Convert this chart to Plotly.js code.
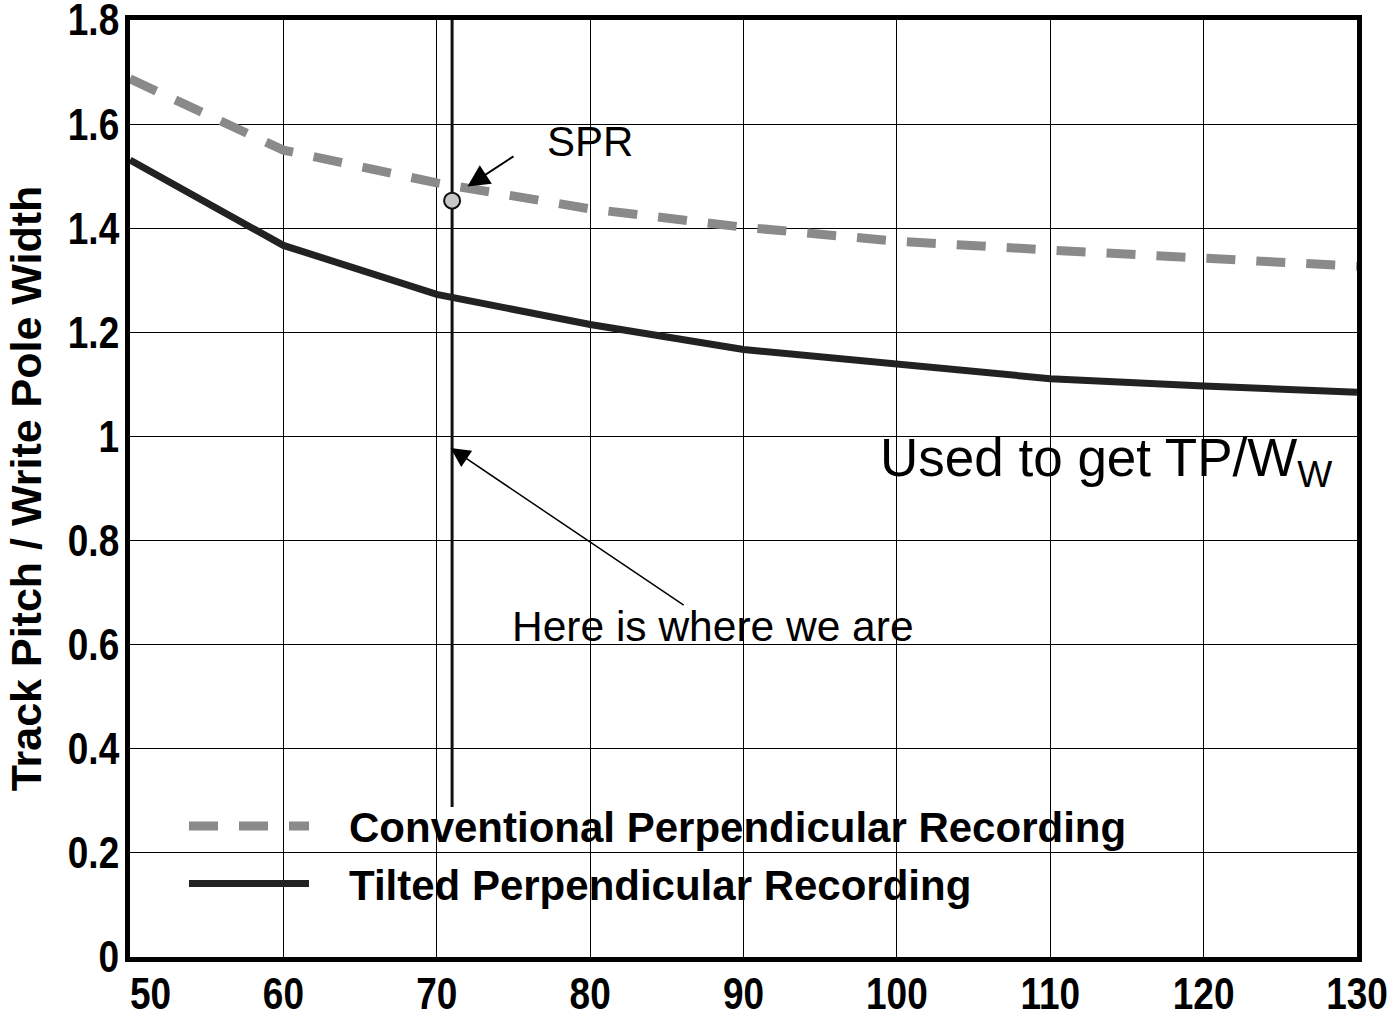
<!DOCTYPE html>
<html>
<head>
<meta charset="utf-8">
<script src="https://cdn.plot.ly/plotly-3.0.1.min.js"></script>
<style>html,body{margin:0;padding:0;background:#fff;}#chart{width:1395px;height:1014px;}</style>
</head>
<body>
<div id="chart"></div>
<script>
// Data
const arealDensityX = [50, 60, 70, 80, 90, 100, 110, 120, 130];
const conventionalPR = [1.687, 1.550, 1.487, 1.437, 1.402, 1.375, 1.358, 1.344, 1.327];
const tiltedPR = [1.531, 1.367, 1.273, 1.215, 1.167, 1.138, 1.111, 1.097, 1.085];
const sprX = [71];
const sprY = [1.453];
const whereX = [71, 71];
const whereY = [0.288, 1.8];
const xTicks = [50, 60, 70, 80, 90, 100, 110, 120, 130];
const yTicks = [0, 0.2, 0.4, 0.6, 0.8, 1, 1.2, 1.4, 1.6, 1.8];
const seriesNames = ['Conventional Perpendicular Recording', 'Tilted Perpendicular Recording'];

const boldFam = 'Liberation Sans, Arial, sans-serif';
const regular = 'Liberation Sans, Arial, sans-serif';
const pad = '\u00a0\u00a0\u00a0';

const traces = [
  {x: whereX, y: whereY, mode: 'lines', line: {color: '#111', width: 3}, showlegend: false, hoverinfo: 'skip'},
  {x: arealDensityX, y: conventionalPR, name: pad + seriesNames[0], mode: 'lines',
   line: {color: '#8a8a8a', width: 9, dash: '29px,21px'}},
  {x: arealDensityX, y: tiltedPR, name: pad + seriesNames[1], mode: 'lines',
   line: {color: '#222', width: 7}},
  {x: sprX, y: sprY, mode: 'markers', showlegend: false,
   marker: {size: 16, color: '#c8c8c8', line: {color: '#111', width: 2}}}
];

// the first x label sits a little to the right of its gridline in the reference
const xTickText = xTicks.map(function (v, i) { return (i === 0 ? '\u00a0\u00a0\u00a0\u00a0' : '') + String(v); });

const layout = {
  width: 1395, height: 1014,
  margin: {l: 130, r: 38, t: 20, b: 57},
  paper_bgcolor: '#fff', plot_bgcolor: '#fff',
  showlegend: true,
  legend: {x: 0.044, y: 0.176, xanchor: 'left', yanchor: 'top', bgcolor: 'rgba(0,0,0,0)',
           font: {family: boldFam, size: 42, color: '#000', weight: 700},
           itemwidth: 120, tracegroupgap: 0},
  xaxis: {range: [50, 130], tickvals: xTicks, ticktext: xTickText,
          showgrid: true, gridcolor: '#000', gridwidth: 1,
          showline: true, linecolor: '#000', linewidth: 5, mirror: true,
          ticks: '', zeroline: false, ticklabeloverflow: 'allow', ticklabelstandoff: -6,
          tickfont: {family: boldFam, size: 44, color: '#000', weight: 700}},
  yaxis: {range: [0, 1.8], tickvals: yTicks, ticktext: yTicks.map(String),
          showgrid: true, gridcolor: '#000', gridwidth: 1,
          showline: true, linecolor: '#000', linewidth: 5, mirror: true,
          ticks: '', zeroline: false, ticklabeloverflow: 'allow', ticklabelstandoff: -3,
          tickfont: {family: boldFam, size: 44, color: '#000', weight: 700},
          title: {text: 'Track Pitch / Write Pole Width', standoff: 4,
                  font: {family: boldFam, size: 43, color: '#000', weight: 700}}},
  annotations: [
    {x: 80.0, y: 1.567, xref: 'x', yref: 'y', text: 'SPR', showarrow: false,
     font: {family: regular, size: 42, color: '#000'}},
    {x: 72.0, y: 1.480, ax: 75.1, ay: 1.54, xref: 'x', yref: 'y', axref: 'x', ayref: 'y',
     text: '', showarrow: true, arrowhead: 2, arrowsize: 2.2, arrowwidth: 2, arrowcolor: '#000'},
    {x: 88.0, y: 0.634, xref: 'x', yref: 'y', text: 'Here is where we are', showarrow: false,
     font: {family: regular, size: 42.5, color: '#000'}},
    {x: 70.9, y: 0.978, ax: 86.2, ay: 0.674, xref: 'x', yref: 'y', axref: 'x', ayref: 'y',
     text: '', showarrow: true, arrowhead: 2, arrowsize: 2.6, arrowwidth: 1.5, arrowcolor: '#000'},
    {x: 98.8, y: 0.951, xref: 'x', yref: 'y', xanchor: 'left', yanchor: 'middle',
     text: 'Used to get TP/W<sub>W</sub>', showarrow: false,
     font: {family: regular, size: 53, color: '#000'}}
  ]
};

Plotly.newPlot('chart', traces, layout, {displayModeBar: false, staticPlot: true}).then(function (gd) {
  // narrow the bold tick labels to look like a condensed face
  gd.querySelectorAll('.xtick text, .ytick text').forEach(function (t) {
    const len = t.getComputedTextLength();
    if (len > 0) {
      t.setAttribute('textLength', (len * 0.84).toFixed(1));
      t.setAttribute('lengthAdjust', 'spacingAndGlyphs');
    }
  });
});
</script>
</body>
</html>
